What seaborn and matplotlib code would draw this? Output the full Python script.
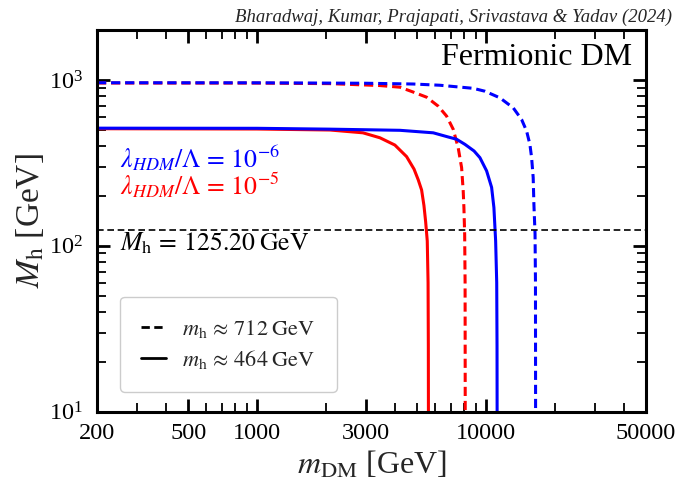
import numpy as np
import pandas as pd
import matplotlib
matplotlib.use("Agg")
import matplotlib.pyplot as plt
from matplotlib.lines import Line2D
from matplotlib.ticker import FixedLocator, FixedFormatter, LogLocator, NullFormatter
import seaborn as sns

# Heavy Higgs mass M_h versus dark-matter mass m_DM (GeV)
m_red_solid = [200, 1000, 2083, 2901, 3442, 4000, 4500, 4850, 5059, 5234, 5358, 5450, 5540, 5585, 5600, 5605]
M_red_solid = [508, 506, 499, 480, 448, 405, 345, 290, 250, 217, 175, 140, 107, 60, 25, 10]

m_blue_solid = [200, 1000, 2083, 4209, 5883, 6839, 7441, 8091, 8870, 9408, 10063, 10583, 10830, 11020, 11140, 11175, 11185]
M_blue_solid = [512, 511, 505, 497, 480, 453, 439, 409, 373, 340, 283, 225, 170, 107, 60, 25, 10]

m_red_dash = [200, 1000, 2083, 3442, 4209, 4811, 5504, 6185, 6731, 7194, 7562, 7826, 7953, 8009, 8070, 8105, 8116]
M_red_dash = [958, 957, 950, 925, 904, 845, 787, 695, 605, 504, 390, 296, 214, 170, 118, 60, 10]

m_blue_dash = [200, 1000, 3000, 4811, 6291, 8800, 9892, 11502, 13150, 14305, 15045, 15552, 15823, 16076, 16193, 16380, 16450, 16470]
M_blue_dash = [962, 961, 955, 945, 929, 890, 855, 780, 679, 578, 492, 409, 340, 258, 178, 118, 60, 10]

M_h_SM = 125.20
x_ticks = [200, 500, 1000, 3000, 10000, 50000]
x_tick_labels = ["200", "500", "1000", "3000", "10000", "50000"]

couplings = [r"$10^{-5}$", r"$10^{-6}$"]
branches = ["712", "464"]

frames = []
for m, M, c, b in [
    (m_red_solid, M_red_solid, couplings[0], branches[1]),
    (m_red_dash, M_red_dash, couplings[0], branches[0]),
    (m_blue_solid, M_blue_solid, couplings[1], branches[1]),
    (m_blue_dash, M_blue_dash, couplings[1], branches[0]),
]:
    frames.append(pd.DataFrame({"m_DM": m, "M_h": M, "coupling": c, "branch": b}))
df = pd.concat(frames, ignore_index=True)

sns.set_theme(style="ticks")
plt.rcParams.update({
    "font.family": ["Liberation Serif", "DejaVu Serif"],
    "mathtext.fontset": "stix",
    "axes.linewidth": 2.2,
})

fig = plt.figure(figsize=(6.79, 4.87), dpi=100)
ax = fig.add_axes([0.1429, 0.1546, 0.8085, 0.7838])

sns.lineplot(
    data=df, x="m_DM", y="M_h", hue="coupling", style="branch",
    hue_order=couplings, style_order=branches,
    palette={couplings[0]: "red", couplings[1]: "blue"},
    dashes={"712": (3.0, 1.6), "464": ""},
    estimator=None, sort=False, lw=2.2, legend=False, ax=ax,
)

ax.axhline(M_h_SM, color="black", lw=1.2, ls=(0, (4.0, 2.2)))

ax.set_xscale("log")
ax.set_yscale("log")
ax.set_xlim(200, 50000)
ax.set_ylim(10, 2000)

ax.xaxis.set_major_locator(FixedLocator(x_ticks))
ax.xaxis.set_major_formatter(FixedFormatter(x_tick_labels))
ax.xaxis.set_minor_locator(LogLocator(base=10, subs=np.arange(2, 10)))
ax.xaxis.set_minor_formatter(NullFormatter())
ax.yaxis.set_minor_locator(LogLocator(base=10, subs=np.arange(2, 10)))
ax.yaxis.set_minor_formatter(NullFormatter())

ax.tick_params(which="both", direction="in", top=True, right=True, colors="black")
ax.tick_params(which="major", length=9.5, width=2.0, labelsize=17.5)
ax.tick_params(which="minor", length=6.5, width=1.3)
ax.tick_params(axis="x", which="major", pad=8)
ax.tick_params(axis="y", which="major", pad=10)
for s in ax.spines.values():
    s.set_color("black")
    s.set_linewidth(2.2)

ax.set_xlabel(r"$m_{\mathrm{DM}}$ [GeV]", fontsize=23, labelpad=4)
ax.set_ylabel(r"$M_{\mathrm{h}}$ [GeV]", fontsize=24, labelpad=2)

ax.text(0.042, 0.641, r"$\lambda_{HDM}/\Lambda\,=\,10^{-6}$", color="blue",
        fontsize=18.5, transform=ax.transAxes, va="baseline", ha="left")
ax.text(0.042, 0.570, r"$\lambda_{HDM}/\Lambda\,=\,10^{-5}$", color="red",
        fontsize=18.5, transform=ax.transAxes, va="baseline", ha="left")
ax.text(0.042, 0.422, r"$M_{\mathrm{h}}\,=\,125.20\;\mathrm{GeV}$", color="black",
        fontsize=18.5, transform=ax.transAxes, va="baseline", ha="left")
ax.text(0.9745, 0.929, "Fermionic DM", color="black", fontsize=23,
        transform=ax.transAxes, va="center", ha="right")
fig.text(0.9897, 0.965, "Bharadwaj, Kumar, Prajapati, Srivastava & Yadav (2024)",
         fontsize=13.5, style="italic", ha="right", va="center")

handles = [
    Line2D([], [], color="black", lw=2.0, dashes=(3.0, 1.6)),
    Line2D([], [], color="black", lw=2.0),
]
labels = [r"$m_{\mathrm{h}}\,\approx\,712\;\mathrm{GeV}$",
          r"$m_{\mathrm{h}}\,\approx\,464\;\mathrm{GeV}$"]
leg = ax.legend(handles, labels, loc="lower left", bbox_to_anchor=(0.042, 0.052),
                borderaxespad=0, fontsize=16, frameon=True, fancybox=True,
                framealpha=1, edgecolor="#cccccc", borderpad=0.95,
                labelspacing=0.35, handlelength=1.1, handletextpad=0.75)
leg.get_frame().set_linewidth(1.0)

fig.savefig("out.png", dpi=100)
